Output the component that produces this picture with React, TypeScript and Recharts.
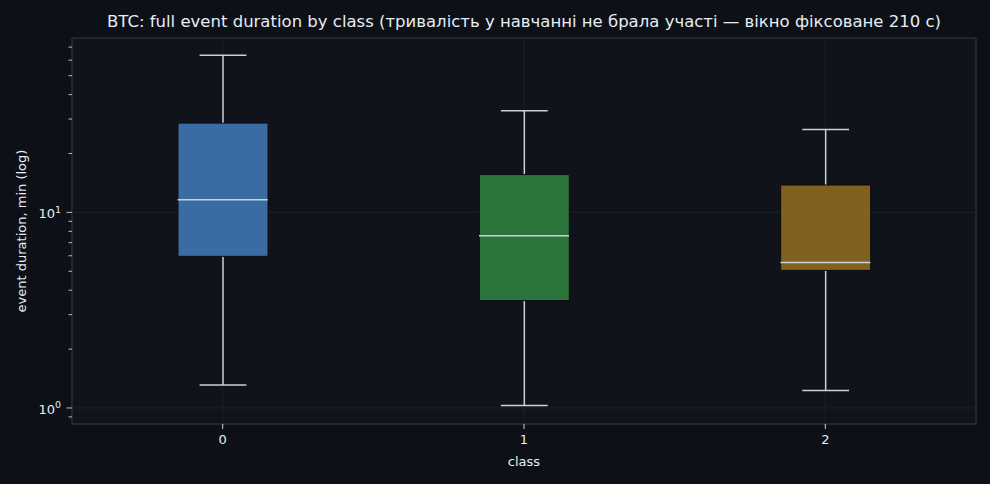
import { Bar, Cell, ComposedChart, CartesianGrid, Line, ReferenceArea, XAxis, YAxis } from "recharts";

const classes = ["0", "1", "2"];
const whiskerLow = [1.31, 1.03, 1.23];
const q1 = [5.96, 3.54, 5.05];
const median = [11.6, 7.6, 5.55];
const q3 = [28.6, 15.6, 13.8];
const whiskerHigh = [63.5, 33.1, 26.5];
const boxColors = ["#3a6ca3", "#2b743c", "#82611f"];

const majorTicks = [1, 10];
const yTicks = [0.9, 1, 2, 3, 4, 5, 6, 7, 8, 9, 10, 20, 30, 40, 50, 60, 70];
const yDomain = [0.828, 77.9];

const FONT = "'DejaVu Sans', sans-serif";
const TEXT = "#e6edf3";
const LIGHT = "#c9d1d9";
const FAINT = "#1c2029";

const data = classes.map((cls, i) => ({
    cls,
    whisker: [whiskerLow[i], whiskerHigh[i]],
    box: [q1[i], q3[i]],
    median: median[i],
}));

const Whisker = (props: any) => {
    const { x, y, width, height } = props;
    const cx = x + width / 2;
    const cap = width * 0.26;
    return (
        <g stroke={LIGHT} strokeWidth={1.5}>
            <line x1={cx} x2={cx} y1={y} y2={y + height} />
            <line x1={cx - cap} x2={cx + cap} y1={y} y2={y} />
            <line x1={cx - cap} x2={cx + cap} y1={y + height} y2={y + height} />
        </g>
    );
};

const MedianDot = (props: any) => {
    const { cx, cy, index } = props;
    return <line key={index} x1={cx - 45} x2={cx + 45} y1={cy} y2={cy} stroke={LIGHT} strokeWidth={1.5} />;
};

const YTick = (props: any) => {
    const { x, y, payload } = props;
    const v = payload.value;
    const major = majorTicks.includes(v);
    return (
        <g>
            <line x1={x - (major ? 5.5 : 3.5)} x2={x} y1={y} y2={y} stroke={LIGHT} strokeWidth={0.9} />
            {major && (
                <text x={x - 11} y={y} dy={6} textAnchor="end" fill={TEXT} fontSize={13} fontFamily={FONT}>
                    10
                    <tspan fontSize={9.5} dy={-5.5}>{v === 1 ? "0" : "1"}</tspan>
                </text>
            )}
        </g>
    );
};

const YLabel = (props: any) => {
    const { viewBox } = props;
    const cy = viewBox.y + viewBox.height / 2;
    return (
        <text x={21} y={cy} transform={`rotate(-90 21 ${cy})`} textAnchor="middle" dominantBaseline="central"
            fill={TEXT} fontSize={13} fontFamily={FONT}>
            event duration, min (log)
        </text>
    );
};

const XLabel = (props: any) => {
    const { viewBox } = props;
    return (
        <text x={viewBox.x + viewBox.width / 2} y={466} textAnchor="middle"
            fill={TEXT} fontSize={13} fontFamily={FONT}>
            class
        </text>
    );
};

export default function App() {
    return (
        <div style={{ position: "absolute", left: 0, top: 0, width: 990, height: 484, background: "#0d1017" }}>
            <div style={{
                position: "absolute", left: 72, width: 904, top: 12, textAlign: "center",
                color: TEXT, fontFamily: FONT, fontSize: 16.5, whiteSpace: "nowrap",
            }}>
                BTC: full event duration by class (тривалість у навчанні не брала участі — вікно фіксоване 210 с)
            </div>
            <ComposedChart width={990} height={484} data={data} margin={{ top: 38, right: 14, left: 0, bottom: 20 }}>
                <CartesianGrid xAxisId="main" yAxisId="grid" stroke={FAINT} fill="#10131a" />
                <XAxis xAxisId="main" dataKey="cls" type="category" height={40} axisLine={false}
                    tickSize={5} tickMargin={6} tickLine={{ stroke: LIGHT }}
                    tick={{ fill: TEXT, fontSize: 13, fontFamily: FONT }} label={<XLabel />} />
                <XAxis xAxisId="box" dataKey="cls" orientation="top" height={0} hide />
                <YAxis yAxisId="y" scale="log" type="number" domain={yDomain} allowDataOverflow ticks={yTicks}
                    interval={0} width={72} axisLine={false} tickLine={false} tickSize={0} tickMargin={0}
                    tick={<YTick />} label={<YLabel />} />
                <YAxis yAxisId="grid" orientation="right" width={0} hide scale="log" type="number" domain={yDomain}
                    allowDataOverflow ticks={majorTicks} interval={0} />
                <Bar xAxisId="main" yAxisId="y" dataKey="whisker" barSize={90} shape={<Whisker />} isAnimationActive={false} />
                <Bar xAxisId="box" yAxisId="y" dataKey="box" barSize={90} stroke="#0a0c10" strokeWidth={1}
                    isAnimationActive={false}>
                    {classes.map((c, i) => (
                        <Cell key={c} fill={boxColors[i]} />
                    ))}
                </Bar>
                <Line xAxisId="main" yAxisId="y" dataKey="median" stroke="none" dot={<MedianDot />} activeDot={false}
                    isAnimationActive={false} />
                <ReferenceArea xAxisId="main" yAxisId="y" x1="0" x2="2" y1={yDomain[0]} y2={yDomain[1]}
                    fill="none" stroke="#30363d" strokeWidth={1} ifOverflow="visible" />
            </ComposedChart>
        </div>
    );
}
